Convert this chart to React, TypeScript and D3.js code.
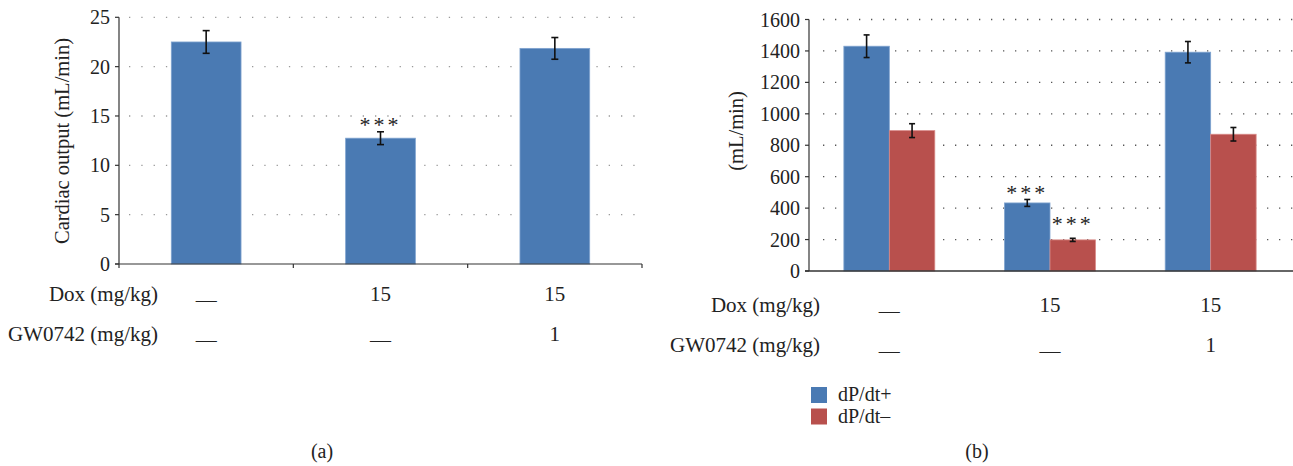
import { useRef, useEffect } from "react";
import * as d3 from "d3";

const groups = ["control", "dox", "dox+gw"];
const cardiacOutput = [22.5, 12.75, 21.85];
const cardiacErr = [1.15, 0.65, 1.1];
const cardiacStars = ["", "***", ""];

const seriesNames = ["dP/dt+", "dP/dt\u2013"];
const dpdtPlus = [1430, 433, 1392];
const dpdtPlusErr = [72, 22, 68];
const dpdtMinus = [893, 198, 870];
const dpdtMinusErr = [44, 10, 43];
const dpdtStars = [["", ""], ["***", "***"], ["", ""]];

const doxRow = ["\u2014", "15", "15"];
const gwRow = ["\u2014", "\u2014", "1"];
const rowLabels = ["Dox (mg/kg)", "GW0742 (mg/kg)"];

const ticksA = [0, 5, 10, 15, 20, 25];
const ticksB = [0, 200, 400, 600, 800, 1000, 1200, 1400, 1600];

const BLUE = "#4A7AB3";
const RED = "#B8504D";
const FONT = "Liberation Serif";

function App() {
  const svgRef = useRef(null);

  useEffect(() => {
    const svg = d3.select(svgRef.current);
    svg.selectAll("*").remove();
    svg.attr("width", 1293).attr("height", 466);

    const axisColor = "#333";
    const txt = (g, x, y, s, size = 20, anchor = "middle") =>
      g.append("text")
        .attr("x", x).attr("y", y)
        .attr("text-anchor", anchor)
        .style("font-family", FONT)
        .style("font-size", size + "px")
        .attr("fill", "#222")
        .text(s);

    // ---------- Panel (a) ----------
    const xA = d3.scaleBand().domain(groups).range([119, 642]).paddingInner(0.6).paddingOuter(0.3);
    const yA = d3.scaleLinear().domain([0, 25]).range([264, 17.3]);

    const gA = svg.append("g");

    // grid
    ticksA.slice(1).forEach(t => {
      gA.append("line")
        .attr("x1", 129).attr("x2", 642)
        .attr("y1", yA(t)).attr("y2", yA(t))
        .attr("stroke", "#999")
        .attr("stroke-width", 1.3)
        .attr("stroke-dasharray", "1.3 11");
    });

    // bars
    groups.forEach((g, i) => {
      gA.append("rect")
        .attr("x", xA(g))
        .attr("y", yA(cardiacOutput[i]))
        .attr("width", xA.bandwidth())
        .attr("height", yA(0) - yA(cardiacOutput[i]))
        .attr("fill", BLUE)
        .attr("stroke", "#7FA3CF")
        .attr("stroke-width", 0.8);
      const cx = xA(g) + xA.bandwidth() / 2;
      const hi = yA(cardiacOutput[i] + cardiacErr[i]);
      const lo = yA(cardiacOutput[i] - cardiacErr[i]);
      gA.append("line").attr("x1", cx).attr("x2", cx).attr("y1", hi).attr("y2", lo)
        .attr("stroke", "#111").attr("stroke-width", 1.6);
      [hi, lo].forEach(y => {
        gA.append("line").attr("x1", cx - 3.5).attr("x2", cx + 3.5).attr("y1", y).attr("y2", y)
          .attr("stroke", "#111").attr("stroke-width", 1.6);
      });
      if (cardiacStars[i]) {
        txt(gA, cx, hi + 0.5, cardiacStars[i], 22).attr("letter-spacing", 3);
      }
    });

    // axes
    gA.append("line").attr("x1", 119).attr("x2", 119).attr("y1", yA(25)).attr("y2", yA(0))
      .attr("stroke", axisColor).attr("stroke-width", 1.2);
    gA.append("line").attr("x1", 115).attr("x2", 642).attr("y1", yA(0)).attr("y2", yA(0))
      .attr("stroke", axisColor).attr("stroke-width", 1.2);
    ticksA.forEach(t => {
      gA.append("line").attr("x1", 115).attr("x2", 119).attr("y1", yA(t)).attr("y2", yA(t))
        .attr("stroke", axisColor).attr("stroke-width", 1.2);
      txt(gA, 110, yA(t) + 7, t, 20, "end");
    });
    const stepA = xA.step();
    [0, 1, 2, 3].forEach(k => {
      const x = 119 + k * stepA;
      gA.append("line").attr("x1", x).attr("x2", x).attr("y1", yA(0)).attr("y2", yA(0) + 4)
        .attr("stroke", axisColor).attr("stroke-width", 1.2);
    });

    txt(gA, 0, 0, "Cardiac output (mL/min)", 20.5)
      .attr("transform", "translate(69,141) rotate(-90)");

    // table rows
    [doxRow, gwRow].forEach((row, r) => {
      const yb = 301 + r * 40;
      txt(gA, 158, yb, rowLabels[r], 21, "end");
      groups.forEach((g, i) => {
        const isDash = row[i] === "\u2014";
        txt(gA, xA(g) + xA.bandwidth() / 2, isDash ? yb + 6 : yb, row[i], 21);
      });
    });

    txt(gA, 322, 458, "(a)", 20);

    // ---------- Panel (b) ----------
    const xB = d3.scaleBand().domain(groups).range([809, 1291]).paddingInner(0.434).paddingOuter(0.217);
    const xSub = d3.scaleBand().domain(seriesNames).range([0, xB.bandwidth()]);
    const yB = d3.scaleLinear().domain([0, 1600]).range([271, 19.5]);

    const gB = svg.append("g");

    ticksB.slice(1).forEach(t => {
      gB.append("line")
        .attr("x1", 823).attr("x2", 1293)
        .attr("y1", yB(t)).attr("y2", yB(t))
        .attr("stroke", "#555")
        .attr("stroke-width", 1.3)
        .attr("stroke-dasharray", "1.3 10.7");
    });

    const seriesVals = [dpdtPlus, dpdtMinus];
    const seriesErr = [dpdtPlusErr, dpdtMinusErr];
    const seriesColor = [BLUE, RED];
    const seriesEdge = ["#7FA3CF", "#D98A88"];
    const starShift = [1, -7];

    groups.forEach((g, i) => {
      seriesNames.forEach((s, j) => {
        const v = seriesVals[j][i];
        const e = seriesErr[j][i];
        const x0 = xB(g) + xSub(s);
        gB.append("rect")
          .attr("x", x0).attr("y", yB(v))
          .attr("width", xSub.bandwidth())
          .attr("height", yB(0) - yB(v))
          .attr("fill", seriesColor[j])
          .attr("stroke", seriesEdge[j])
          .attr("stroke-width", 0.8);
        const cx = x0 + xSub.bandwidth() / 2;
        const hi = yB(v + e);
        const lo = yB(v - e);
        gB.append("line").attr("x1", cx).attr("x2", cx).attr("y1", hi).attr("y2", lo)
          .attr("stroke", "#111").attr("stroke-width", 1.6);
        [hi, lo].forEach(y => {
          gB.append("line").attr("x1", cx - 3).attr("x2", cx + 3).attr("y1", y).attr("y2", y)
            .attr("stroke", "#111").attr("stroke-width", 1.6);
        });
        if (dpdtStars[i][j]) {
          txt(gB, cx, hi + starShift[j], dpdtStars[i][j], 22).attr("letter-spacing", 3);
        }
      });
    });

    gB.append("line").attr("x1", 809).attr("x2", 809).attr("y1", yB(1600)).attr("y2", yB(0))
      .attr("stroke", axisColor).attr("stroke-width", 1.2);
    gB.append("line").attr("x1", 805).attr("x2", 1293).attr("y1", yB(0)).attr("y2", yB(0))
      .attr("stroke", axisColor).attr("stroke-width", 1.6);
    ticksB.forEach(t => {
      gB.append("line").attr("x1", 805).attr("x2", 809).attr("y1", yB(t)).attr("y2", yB(t))
        .attr("stroke", axisColor).attr("stroke-width", 1.2);
      txt(gB, 800, yB(t) + 7, t, 20, "end");
    });

    txt(gB, 0, 0, "(mL/min)", 20.5)
      .attr("transform", "translate(743,131) rotate(-90)");

    [doxRow, gwRow].forEach((row, r) => {
      const yb = 312 + r * 40;
      txt(gB, 820, yb, rowLabels[r], 21, "end");
      groups.forEach((g, i) => {
        const isDash = row[i] === "\u2014";
        txt(gB, xB(g) + xB.bandwidth() / 2, isDash ? yb + 6 : yb, row[i], 21);
      });
    });

    // legend
    seriesNames.forEach((s, j) => {
      const y0 = 387 + j * 21.5;
      gB.append("rect")
        .attr("x", 811).attr("y", y0)
        .attr("width", 16).attr("height", 16)
        .attr("fill", seriesColor[j]);
      txt(gB, 838, y0 + 14, s, 20, "start");
    });

    txt(gB, 977, 458, "(b)", 20);
  }, []);

  return (
    <div style={{ position: "absolute", left: 0, top: 0 }}>
      <svg ref={svgRef} style={{ display: "block", background: "#fff" }} />
    </div>
  );
}

export default App;
